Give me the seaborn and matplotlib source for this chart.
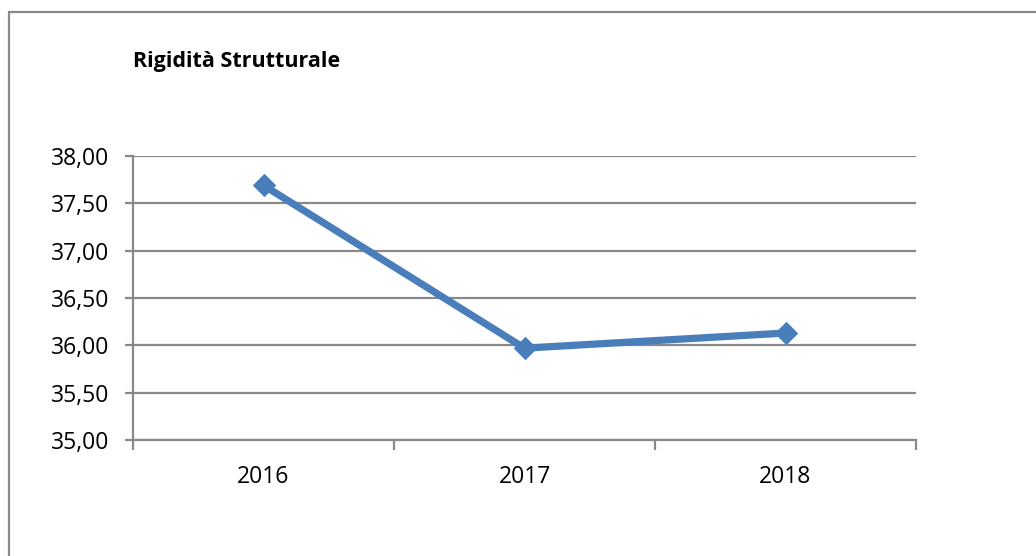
import matplotlib
matplotlib.use("Agg")
import matplotlib.pyplot as plt
import matplotlib.patches as mpatches
from matplotlib.ticker import FuncFormatter, FixedLocator
import pandas as pd
import seaborn as sns

sns.set_style("white")
plt.rcParams['font.family'] = ['Open Sans', 'DejaVu Sans']
plt.rcParams['text.color'] = 'black'
plt.rcParams['xtick.labelcolor'] = 'black'
plt.rcParams['ytick.labelcolor'] = 'black'

years = ['2016', '2017', '2018']
rigidita = [37.69, 35.97, 36.13]
y_ticks = [35.0, 35.5, 36.0, 36.5, 37.0, 37.5, 38.0]
title = 'Rigidità Strutturale'

grey = '#898989'
blue = '#4A7EBB'

df = pd.DataFrame({'anno': years, 'valore': rigidita})

fig = plt.figure(figsize=(10.36, 5.56), dpi=100)
ax = fig.add_axes([133 / 1036, 1 - 440 / 556, (916 - 133) / 1036, (440 - 156) / 556])

# chart frame (cropped at right / bottom)
frame = mpatches.Rectangle((9 / 1036, -0.1), 1.2, 1 - 12 / 556 + 0.1,
                           transform=fig.transFigure, fill=False,
                           edgecolor=grey, linewidth=1.6, clip_on=False)
fig.patches.append(frame)

ax.yaxis.grid(True, color=grey, linewidth=1.6)
ax.set_axisbelow(True)

sns.lineplot(ax=ax, data=df, x='anno', y='valore', sort=False, color=blue,
             linewidth=5.2, marker='D', markersize=11, markeredgecolor=blue,
             zorder=5, clip_on=False)

ax.set_ylim(35, 38)
ax.set_xlim(-0.5, 2.5)
ax.set_yticks(y_ticks)
ax.yaxis.set_major_formatter(FuncFormatter(lambda v, p: f"{v:.2f}".replace('.', ',')))
ax.set_xticks(range(len(years)))
ax.set_xticklabels(years)
ax.xaxis.set_minor_locator(FixedLocator([-0.5, 0.5, 1.5, 2.5]))

ax.tick_params(axis='y', which='major', length=6, width=1.6, color=grey,
               labelsize=16.5, pad=11, left=True)
ax.tick_params(axis='x', which='major', length=0, labelsize=16.5, pad=18)
ax.tick_params(axis='x', which='minor', length=7, width=1.6, color=grey,
               bottom=True)

for side in ['top', 'right']:
    ax.spines[side].set_visible(False)
for side in ['left', 'bottom']:
    ax.spines[side].set_color(grey)
    ax.spines[side].set_linewidth(1.6)

ax.set_xlabel(None)
ax.set_ylabel(None)

fig.text(133 / 1036, 1 - 61 / 556, title, fontsize=15.5, fontweight='bold',
         ha='left', va='center', color='black')

plt.savefig("out.png", dpi=100)
